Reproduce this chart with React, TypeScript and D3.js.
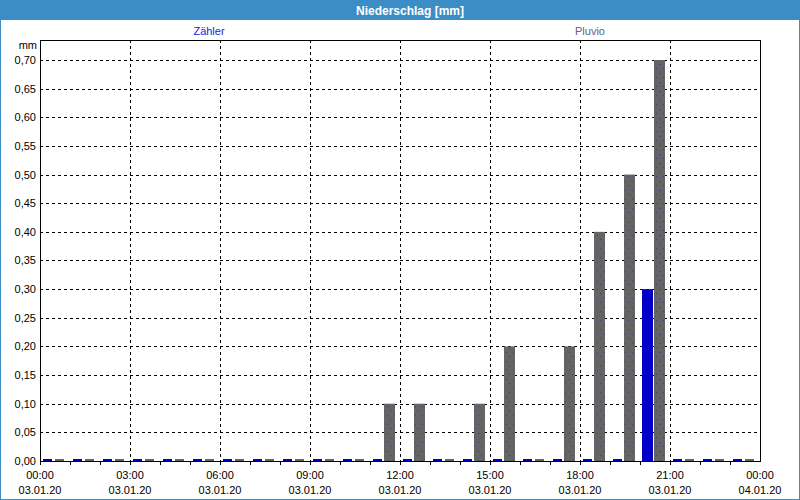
import React from "react";
import * as d3 from "d3";

const hours = d3.range(0, 24);
const zaehler = [0, 0, 0, 0, 0, 0, 0, 0, 0, 0, 0, 0, 0, 0, 0, 0, 0, 0, 0, 0, 0.3, 0, 0, 0];
const pluvio = [0, 0, 0, 0, 0, 0, 0, 0, 0, 0, 0, 0.1, 0.1, 0, 0.1, 0.2, 0, 0.2, 0.4, 0.5, 0.7, 0, 0, 0];
const yTicks = d3.range(0, 0.7001, 0.05);
const xLabelHours = [0, 3, 6, 9, 12, 15, 18, 21, 24];
const xTimeLabels = ["00:00", "03:00", "06:00", "09:00", "12:00", "15:00", "18:00", "21:00", "00:00"];
const xDateLabels = ["03.01.20", "03.01.20", "03.01.20", "03.01.20", "03.01.20", "03.01.20", "03.01.20", "03.01.20", "04.01.20"];
const title = "Niederschlag [mm]";
const seriesNames = ["Zähler", "Pluvio"];

const W = 800, H = 500;
const L = 40, R = 760, T = 40, B = 461;
const font = "'Liberation Sans', Arial, sans-serif";

export default function App() {
  const x = d3.scaleLinear().domain([0, 24]).range([L, R]);
  const y = d3.scaleLinear().domain([0, 0.7]).range([B, 60]);
  const fmt = (v: number) => d3.format(".2f")(v).replace(".", ",");

  const bar = (v: number, h: number, off: number, color: string, fill: string, key: string) => {
    if (v === 0) {
      return <rect key={key} x={x(h) + off + 1} y={B - 2} width={9} height={2} fill={color} />;
    }
    return <rect key={key} x={x(h) + off} y={y(v)} width={11} height={B - y(v)} fill={fill} />;
  };

  return (
    <svg width={W} height={H} style={{ position: "absolute", left: 0, top: 0, fontFamily: font }}>
      <defs>
        <pattern id="dots" width="7" height="9" patternUnits="userSpaceOnUse">
          <rect width="7" height="9" fill="#646464" />
          <rect x="2" y="1" width="1" height="1" fill="#40407a" />
          <rect x="5" y="5" width="1" height="1" fill="#40407a" />
        </pattern>
      </defs>
      <rect x={0} y={0} width={W} height={H} fill="#ffffff" />
      <rect x={0.5} y={0.5} width={W - 1} height={H - 1} fill="none" stroke="#3c8dc5" />
      <rect x={0} y={0} width={W} height={20} fill="#3c8dc5" />
      <text x={410} y={15} textAnchor="middle" fill="#ffffff" fontWeight="bold" fontSize={12}>{title}</text>

      <text x={209} y={35} textAnchor="middle" fill="#2020e0" fontSize={11}>{seriesNames[0]}</text>
      <text x={590} y={35} textAnchor="middle" fill="#606090" fontSize={11}>{seriesNames[1]}</text>
      <text x={37} y={49} textAnchor="end" fill="#000" fontSize={11}>mm</text>

      {yTicks.filter(v => v > 0.001).map((v, i) => (
        <line key={"gy" + i} x1={L} x2={R} y1={Math.round(y(v)) + 0.5} y2={Math.round(y(v)) + 0.5} stroke="#000" strokeDasharray="3,3" />
      ))}
      {xLabelHours.filter(h => h > 0 && h < 24).map(h => (
        <line key={"gx" + h} x1={x(h) + 0.5} x2={x(h) + 0.5} y1={T} y2={B} stroke="#000" strokeDasharray="3,3" />
      ))}
      {yTicks.map((v, i) => (
        <text key={"yl" + i} x={36} y={Math.round(y(v)) + 4} textAnchor="end" fill="#000" fontSize={11}>{fmt(v)}</text>
      ))}
      {hours.map(h => (
        <line key={"t" + h} x1={x(h) + 0.5} x2={x(h) + 0.5} y1={B} y2={B + 4} stroke="#000" />
      ))}
      {xLabelHours.map((h, i) => (
        <g key={"xl" + i}>
          <text x={x(h)} y={479} textAnchor="middle" fill="#000" fontSize={11}>{xTimeLabels[i]}</text>
          <text x={x(h)} y={494} textAnchor="middle" fill="#000" fontSize={11}>{xDateLabels[i]}</text>
        </g>
      ))}

      {hours.map(h => bar(zaehler[h], h, 2, "#0000c0", "#0000c8", "z" + h))}
      {hours.map(h => bar(pluvio[h], h, 14, "#646464", "url(#dots)", "p" + h))}

      <rect x={L + 0.5} y={T + 0.5} width={R - L} height={B - T} fill="none" stroke="#000" />
    </svg>
  );
}
